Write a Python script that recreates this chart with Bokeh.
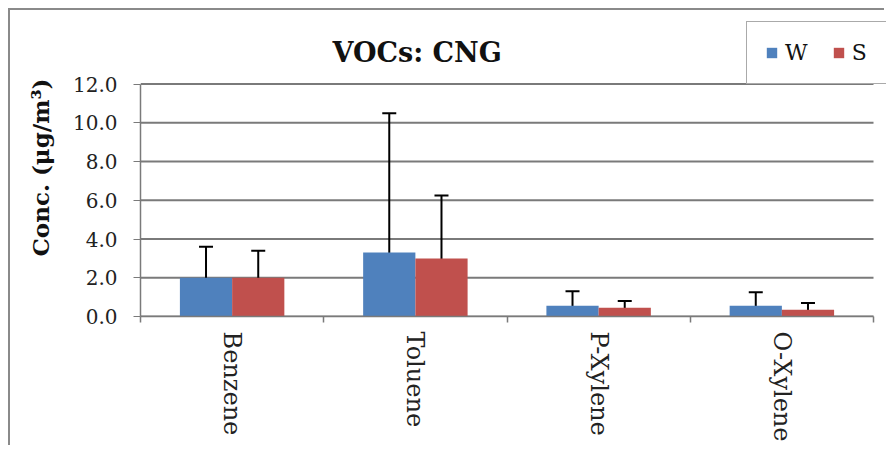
from bokeh.plotting import figure
from bokeh.models import (ColumnDataSource, Range1d, FixedTicker, Whisker, TeeHead,
                          Legend, LegendItem, NumeralTickFormatter, Label)
from bokeh.embed import file_html
from bokeh.resources import INLINE

title_text = "VOCs: CNG"
categories = ["Benzene", "Toluene", "P-Xylene", "O-Xylene"]
series = ["W", "S"]
w_mean = [2.0, 3.3, 0.55, 0.55]
w_upper = [3.6, 10.5, 1.3, 1.25]
w_lower = [0.6, 0.0, 0.0, 0.0]
s_mean = [2.0, 3.0, 0.45, 0.35]
s_upper = [3.4, 6.25, 0.8, 0.7]
s_lower = [0.6, 0.0, 0.1, 0.1]
y_ticks = [0, 2, 4, 6, 8, 10, 12]
colors = ["#4F81BD", "#C0504D"]

FONT = "DejaVu Serif"
GRID = "#7a7a7a"

# layout (pixels)
W, H = 876, 437
LEFT, RIGHT, TOP, BOTTOM = 130, 0, 8, 131
frame_w = W - LEFT - RIGHT
frame_h = H - TOP - BOTTOM
axis_px_y = 232.4   # pixel height of the 0..12 axis span
axis_px_x = 733.0   # pixel width of the category axis span
y_end = y_ticks[-1] * frame_h / axis_px_y
x_end = len(categories) * frame_w / axis_px_x

centers = [i + 0.5 for i in range(len(categories))]
bw = 0.285
src_w = ColumnDataSource(dict(x=[c - bw / 2 for c in centers], top=w_mean, upper=w_upper, lower=w_lower))
src_s = ColumnDataSource(dict(x=[c + bw / 2 for c in centers], top=s_mean, upper=s_upper, lower=s_lower))

p = figure(width=W, height=H, output_backend="svg", toolbar_location=None,
           x_range=Range1d(0, x_end), y_range=Range1d(0, y_end),
           min_border_left=LEFT, min_border_right=RIGHT, min_border_top=TOP, min_border_bottom=BOTTOM)
p.styles = {"margin-left": "8px", "margin-top": "8px",
            "border-left": "2px solid #8a8a8a", "border-top": "2px solid #8a8a8a"}
p.outline_line_color = None

# horizontal gridlines limited to the category span
p.xgrid.visible = False
p.ygrid.visible = False
p.segment(x0=[0] * len(y_ticks), x1=[len(categories)] * len(y_ticks), y0=y_ticks, y1=y_ticks,
          line_color=GRID, line_width=2, level="underlay")

rw = p.vbar(x="x", top="top", width=bw, source=src_w, fill_color=colors[0], line_color=None)
rs = p.vbar(x="x", top="top", width=bw, source=src_s, fill_color=colors[1], line_color=None)

for src in (src_w, src_s):
    wk = Whisker(base="x", upper="upper", lower="lower", source=src,
                 line_color="black", line_width=2,
                 upper_head=TeeHead(size=14, line_color="black", line_width=2),
                 lower_head=TeeHead(size=14, line_color="black", line_width=2))
    p.add_layout(wk)

# y axis
ya = p.yaxis[0]
ya.ticker = FixedTicker(ticks=y_ticks)
ya.bounds = (y_ticks[0], y_ticks[-1])
ya.formatter = NumeralTickFormatter(format="0.0")
ya.major_label_text_font = FONT
ya.major_label_text_font_size = "20px"
ya.major_label_text_color = "#222222"
ya.major_tick_out = 7
ya.major_tick_in = 0
ya.major_tick_line_color = GRID
ya.minor_tick_line_color = None
ya.major_label_standoff = 16
ya.axis_line_color = GRID
ya.axis_line_width = 1.5
ya.axis_label = "Conc. (μg/m³)"
ya.axis_label_text_font = FONT
ya.axis_label_text_font_style = "bold"
ya.axis_label_text_font_size = "23px"
ya.axis_label_text_color = "#111111"
ya.axis_label_standoff = 16

# x axis
xa = p.xaxis[0]
xa.ticker = FixedTicker(ticks=centers, minor_ticks=list(range(len(categories) + 1)))
xa.bounds = (0, len(categories))
xa.major_label_overrides = {c: name for c, name in zip(centers, categories)}
xa.major_label_orientation = "vertical"
xa.major_label_text_font = FONT
xa.major_label_text_font_size = "24px"
xa.major_label_text_color = "#222222"
xa.major_tick_line_color = None
xa.major_tick_out = 0
xa.major_tick_in = 0
xa.minor_tick_out = 6
xa.minor_tick_in = 0
xa.minor_tick_line_color = GRID
xa.minor_tick_line_width = 1.5
xa.major_label_standoff = 9
xa.axis_line_color = GRID
xa.axis_line_width = 1.5

# chart title (inside the extended frame area, above the 12.0 gridline)
p.add_layout(Label(x=192, y=264, x_units="screen", y_units="screen", text=title_text,
                   text_font=FONT, text_font_style="bold", text_font_size="27px",
                   text_color="#111111", text_baseline="alphabetic", text_align="left"))

legend = Legend(items=[LegendItem(label=series[0], renderers=[rw]),
                       LegendItem(label=series[1], renderers=[rs])],
                orientation="horizontal", location=(606, 232))
legend.border_line_color = "#555555"
legend.border_line_width = 1.5
legend.background_fill_color = "white"
legend.background_fill_alpha = 1
legend.label_text_font = FONT
legend.label_text_font_size = "22px"
legend.label_text_color = "#111111"
legend.glyph_width = 13
legend.glyph_height = 13
legend.padding = 18
legend.spacing = 24
legend.label_standoff = 7
legend.margin = 0
p.add_layout(legend)

open("out.html", "w").write(file_html(p, INLINE))
